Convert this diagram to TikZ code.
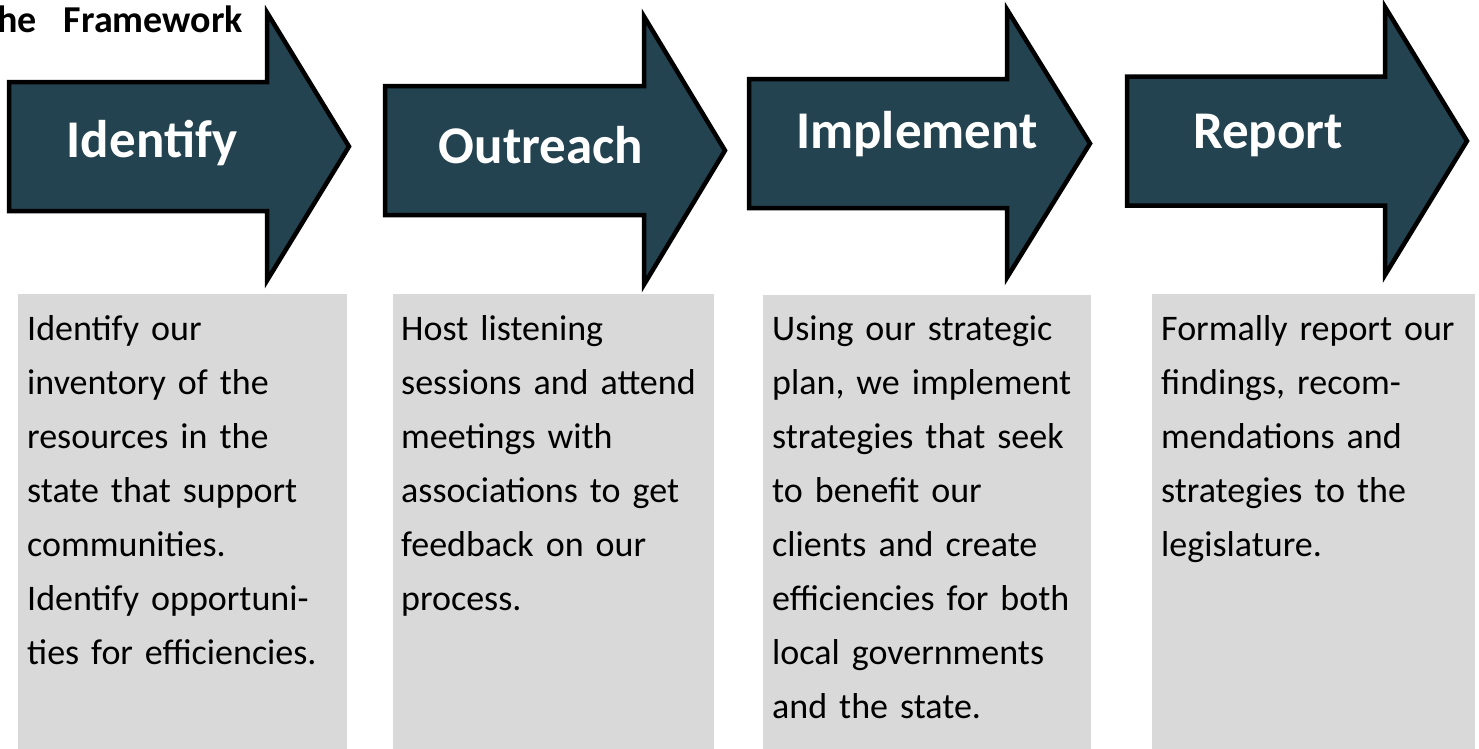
\documentclass[tikz,border=0pt]{standalone}
\usepackage{fontspec}
\setmainfont{Carlito}
\definecolor{arrowteal}{RGB}{35,67,80}
\definecolor{panelgray}{RGB}{217,217,217}

\begin{document}
\begin{tikzpicture}[
    x=1pt,y=-1pt,
    flowarrow/.style={draw=black, line width=4.5pt, fill=arrowteal, line join=miter},
    steplabel/.style={anchor=base, inner sep=0, text=white, font=\fontsize{53}{60}\selectfont\bfseries},
    panel/.style={fill=panelgray, anchor=north west, inner sep=0, minimum height=470pt},
    desc/.style={anchor=base west, inner sep=0, text width=330pt, align=left, font=\fontsize{36}{54}\selectfont},
    heading/.style={anchor=base east, inner sep=0, font=\fontsize{38}{44}\selectfont\bfseries}
]
    \useasboundingbox (0,0) rectangle (1479,748);
    \clip (0,0) rectangle (1479,748);

    % --- Title ---
    \node[heading] (title) at (243,32) {The\hspace{27pt}Framework};

    % --- Arrows ---
    \draw[flowarrow] (9,82) -- (267,82) -- (267,12.5) -- (349,146.5) -- (267,280.5) -- (267,211) -- (9,211) -- cycle;
    \draw[flowarrow] (385,86) -- (644,86) -- (644,16.5) -- (725,150.5) -- (644,284.5) -- (644,215) -- (385,215) -- cycle;
    \draw[flowarrow] (749,79) -- (1007,79) -- (1007,9.5) -- (1090,143.5) -- (1007,277.5) -- (1007,208) -- (749,208) -- cycle;
    \draw[flowarrow] (1127,76.5) -- (1385,76.5) -- (1385,7) -- (1467,141) -- (1385,275) -- (1385,205.5) -- (1127,205.5) -- cycle;

    \node[steplabel] (idf) at (152,157) {Identify};
    \node[steplabel] (otr) at (541,163) {Outreach};
    \node[steplabel] (imp) at (917,148) {Implement};
    \node[steplabel] (rep) at (1268,148) {Report};

    % --- Panels ---
    \node[panel, minimum width=329pt] (idf_box) at (18,294) {};
    \node[panel, minimum width=321pt] (otr_box) at (393,294) {};
    \node[panel, minimum width=328pt] (imp_box) at (763,295) {};
    \node[panel, minimum width=323pt] (rep_box) at (1152,294) {};

    \node[desc] (idf_txt) at ([shift={(9,46)}]idf_box.north west)
        {Identify our\\inventory of the\\resources in the\\state that support\\communities.\\Identify opportuni-\\ties for efficiencies.};
    \node[desc] (otr_txt) at ([shift={(8,46)}]otr_box.north west)
        {Host listening\\sessions and attend\\meetings with\\associations to get\\feedback on our\\process.};
    \node[desc] (imp_txt) at ([shift={(9,45)}]imp_box.north west)
        {Using our strategic\\plan, we implement\\strategies that seek\\to benefit our\\clients and create\\efficiencies for both\\local governments\\and the state.};
    \node[desc] (rep_txt) at ([shift={(9,46)}]rep_box.north west)
        {Formally report our\\findings, recom-\\mendations and\\strategies to the\\legislature.};

\end{tikzpicture}
\end{document}
